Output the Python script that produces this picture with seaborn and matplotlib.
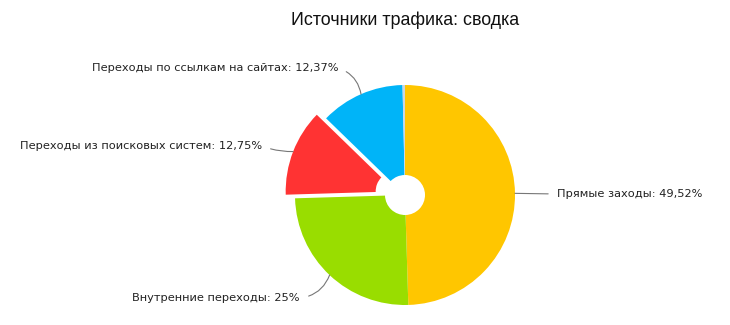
import matplotlib
matplotlib.use("Agg")
import matplotlib.pyplot as plt
import seaborn as sns
import numpy as np

categories = ["Прямые заходы", "Внутренние переходы", "Переходы из поисковых систем",
              "Переходы по ссылкам на сайтах", "Прочее"]
values = [49.52, 25.0, 12.75, 12.37, 0.36]
value_labels = ["49,52%", "25%", "12,75%", "12,37%", ""]
colors = ["#FFC600", "#99DD00", "#FF3333", "#00B4F8", "#C9D6E3"]
explode = [0, 0, 10, 0, 0]  # offset in data units (axes are in pixel-like units)

sns.set_theme(style="white")
plt.rcParams['font.family'] = ['DejaVu Sans']

fig = plt.figure(figsize=(7.3, 3.25), dpi=100)
ax = fig.add_axes([0, 0, 1, 1])

cx, cy, R = 405, 130, 110
wedges, _ = ax.pie(values, colors=colors, startangle=90, counterclock=False,
                   explode=explode, center=(cx, cy), radius=R,
                   wedgeprops=dict(width=R - 20, linewidth=0), frame=True)
ax.set_xlim(0, 730)
ax.set_ylim(0, 325)
ax.set_aspect('equal')
ax.axis('off')

text_pos = [(557, 131, 'left', 0.0), (300, 27, 'right', 0.3),
            (262, 179, 'right', 0.1), (338, 257, 'right', -0.3)]
for i, (w, lab, vl) in enumerate(zip(wedges[:4], categories[:4], value_labels[:4])):
    ang = np.deg2rad((w.theta1 + w.theta2) / 2)
    wc = w.center
    r = w.r
    px = wc[0] + r * np.cos(ang)
    py = wc[1] + r * np.sin(ang)
    tx, ty, ha, rad = text_pos[i]
    relpos = (0, 0.5) if ha == 'left' else (1, 0.5)
    ax.annotate(f"{lab}: {vl}", xy=(px, py), xytext=(tx, ty),
                ha=ha, va='center', fontsize=8.2, color='#222222',
                arrowprops=dict(arrowstyle='-', color='#777777', lw=0.8,
                                shrinkA=4, shrinkB=0, relpos=relpos,
                                connectionstyle=f"arc3,rad={rad}"))

fig.text(405 / 730, 1 - 20 / 325, "Источники трафика: сводка", ha='center', va='center',
         fontsize=12.9, color='#111111', family=['Liberation Sans', 'DejaVu Sans'])

fig.savefig("out.png", dpi=100, facecolor='white')
